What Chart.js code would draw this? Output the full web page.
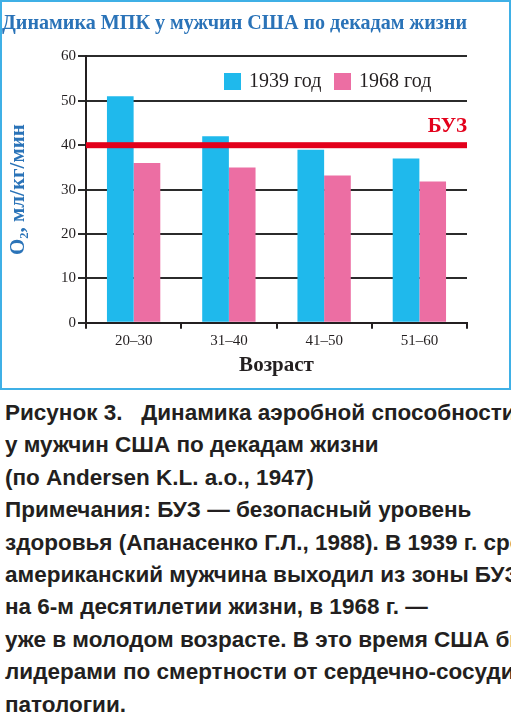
<!DOCTYPE html>
<html><head><meta charset="utf-8">
<script src="https://cdn.jsdelivr.net/npm/chart.js@4"></script>
<style>
body{margin:0;background:#fff;width:511px;height:719px;overflow:hidden;font-family:"Liberation Sans Narrow","Liberation Sans",sans-serif}
#box{position:absolute;left:0;top:0;width:507px;height:386px;border:2px solid #3fb0e6}
#cap{position:absolute;left:5px;top:397px;font-weight:bold;font-size:22.5px;line-height:32.4px;color:#231f20;white-space:nowrap}
</style></head><body>
<div id="box"><canvas id="c" width="507" height="386"></canvas></div>
<div id="cap">Рисунок 3.&nbsp;&nbsp; Динамика аэробной способности<br>у мужчин США по декадам жизни<br>(по Andersen K.L. a.o., 1947)<br>Примечания: БУЗ — безопасный уровень<br>здоровья (Апанасенко Г.Л., 1988). В 1939 г. средний<br>американский мужчина выходил из зоны БУЗ<br>на 6-м десятилетии жизни, в 1968 г. —<br>уже в молодом возрасте. В это время США были<br>лидерами по смертности от сердечно-сосудистой<br>патологии.</div>
<script>
const categories=["20–30","31–40","41–50","51–60"];
const series1939=[51,42,39,37];
const series1968=[36,35,33.2,31.8];
const yTicks=[0,10,20,30,40,50,60];
const buzLevel=40;
const F='"Liberation Sans Narrow"';
const extra={id:'extra',afterDatasetsDraw(ch){
 const {ctx,chartArea:a,scales:{y}}=ch;const py=y.getPixelForValue(buzLevel);
 ctx.save();ctx.fillStyle='#e3001b';ctx.fillRect(a.left,py-3,a.right-a.left,6);
 ctx.font='bold 21px '+F;ctx.textAlign='right';ctx.textBaseline='middle';ctx.fillText('БУЗ',a.right,py-19);
 const items=[['1939 год','#1fb9ec',222],['1968 год','#ec6ea3',332]];
 ctx.font='20px '+F;ctx.textAlign='left';
 items.forEach(([t,c,x])=>{ctx.fillStyle=c;ctx.fillRect(x,71,17,17);ctx.fillStyle='#231f20';ctx.fillText(t,x+25,80);});
 ctx.restore();}};
function draw(){
new Chart(document.getElementById('c'),{type:'bar',
 data:{labels:categories,datasets:[
  {label:'1939 год',data:series1939,backgroundColor:'#1fb9ec',barPercentage:1,categoryPercentage:0.56},
  {label:'1968 год',data:series1968,backgroundColor:'#ec6ea3',barPercentage:1,categoryPercentage:0.56}]},
 options:{responsive:false,animation:false,devicePixelRatio:1,
  layout:{padding:{left:0,right:42,top:0,bottom:6}},
  plugins:{legend:{display:false},tooltip:{enabled:false},
   title:{display:true,text:'Динамика МПК у мужчин США по декадам жизни',color:'#2a73b8',font:{family:F,size:22,weight:'bold'},padding:{top:8,bottom:20}}},
  scales:{
   x:{grid:{display:true,drawOnChartArea:false,offset:true,color:'#231f20',tickLength:6,lineWidth:2},border:{color:'#231f20',width:2},
      ticks:{color:'#231f20',font:{family:F,size:15}},
      title:{display:true,text:'Возраст',color:'#231f20',font:{family:F,size:21,weight:'bold'},padding:{top:0}}},
   y:{min:0,max:60,afterBuildTicks(s){s.ticks=yTicks.map(v=>({value:v}));},
      afterFit(s){s.width=84;},
      grid:{color:'#2b2b2b',lineWidth:2,tickLength:8},border:{color:'#231f20',width:2},
      ticks:{color:'#231f20',font:{family:F,size:15},padding:2},
      title:{display:true,text:'O₂, мл/кг/мин',color:'#2a73b8',font:{family:F,size:21,weight:'bold'},padding:{bottom:14}}}}},
 plugins:[extra]});
}
Promise.all([document.fonts.load('20px "Liberation Sans Narrow"'),document.fonts.load('bold 20px "Liberation Sans Narrow"')]).then(draw,draw);
</script></body></html>
